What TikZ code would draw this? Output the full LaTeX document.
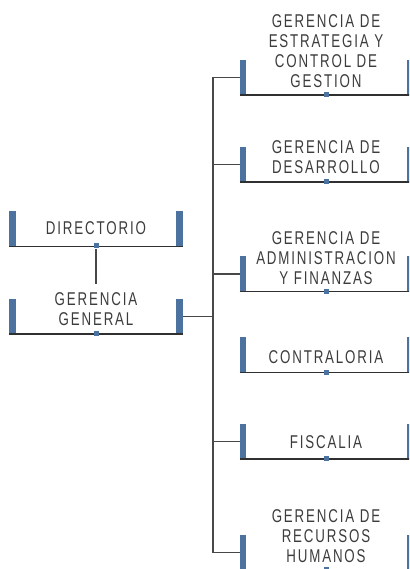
\documentclass[tikz,border=0pt]{standalone}
\usepackage{fontspec}
\setmainfont{Liberation Sans}[FakeStretch=0.72,LetterSpace=10]
\begin{document}
\begin{tikzpicture}[x=1pt,y=1pt,
  bar/.style={rectangle,fill=barColor,draw=none,inner sep=0pt,minimum width=6.5pt,minimum height=35pt},
  boxrule/.style={draw=ruleColor,line width=1.6pt},
  link/.style={draw=linkColor,line width=1.3pt},
  sqmark/.style={rectangle,fill=barColor,inner sep=0pt,minimum size=5pt},
  unittext/.style={text=textColor,align=center,inner sep=0pt,font=\fontsize{18.5}{20}\selectfont}]
\definecolor{barColor}{RGB}{76,115,160}
\definecolor{ruleColor}{RGB}{48,48,48}
\definecolor{linkColor}{RGB}{72,72,72}
\definecolor{textColor}{RGB}{60,60,60}
\useasboundingbox (0,0) rectangle (409,569);
\clip (0,0) rectangle (409,569);

% left column
\node[bar] (dir-l) at ( 12.5,340) {};
\node[bar] (dir-r) at (179.5,340) {};
\draw[boxrule] (dir-l.south west) -- (dir-r.south east);
\node[sqmark] (dir-sq) at (96,323) {};
\node[unittext] (dir) at (96,341) {DIRECTORIO};

\node[bar] (gg-l) at ( 12.5,252.5) {};
\node[bar] (gg-r) at (179.5,252.5) {};
\draw[boxrule] (gg-l.south west) -- (gg-r.south east);
\node[sqmark] (gg-sq) at (96,235) {};
\node[unittext] (gg) at (96,259.5) {GERENCIA\\GENERAL};

\draw[link] (dir-sq) -- ([yshift=9pt]gg.north);

% right column
\node[bar] (est-l) at (243,491.5) {};
\node[bar] (est-r) at (410,491.5) {};
\draw[boxrule] (est-l.south west) -- (est-r.south east);
\node[sqmark] (est-sq) at (326,474) {};
\node[unittext] (est) at (326,518) {GERENCIA DE\\ESTRATEGIA Y\\CONTROL DE\\GESTION};

\node[bar] (des-l) at (243,404.5) {};
\node[bar] (des-r) at (410,404.5) {};
\draw[boxrule] (des-l.south west) -- (des-r.south east);
\node[sqmark] (des-sq) at (326,387) {};
\node[unittext] (des) at (326,412.3) {GERENCIA DE\\DESARROLLO};

\node[bar] (adm-l) at (243,295) {};
\node[bar] (adm-r) at (410,295) {};
\draw[boxrule] (adm-l.south west) -- (adm-r.south east);
\node[sqmark] (adm-sq) at (326,277.5) {};
\node[unittext] (adm) at (326,311.2) {GERENCIA DE\\ADMINISTRACION\\Y FINANZAS};

\node[bar] (con-l) at (243,214) {};
\node[bar] (con-r) at (410,214) {};
\draw[boxrule] (con-l.south west) -- (con-r.south east);
\node[sqmark] (con-sq) at (326,196.5) {};
\node[unittext] (con) at (326,211.5) {CONTRALORIA};

\node[bar] (fis-l) at (243,127.5) {};
\node[bar] (fis-r) at (410,127.5) {};
\draw[boxrule] (fis-l.south west) -- (fis-r.south east);
\node[sqmark] (fis-sq) at (326,110) {};
\node[unittext] (fis) at (326,127) {FISCALIA};

\node[bar] (rh-l) at (243,16.5) {};
\node[bar] (rh-r) at (410,16.5) {};
\draw[boxrule] (rh-l.south west) -- (rh-r.south east);
\node[sqmark] (rh-sq) at (326,-1) {};
\node[unittext] (rh) at (326,33.2) {GERENCIA DE\\RECURSOS\\HUMANOS};

% trunk
\coordinate (trunk) at (213,252.5);
\draw[link] (gg-r.east) -- (trunk);
\draw[link] (est-l.west) -| (trunk);
\draw[link] (rh-l.west) -| (trunk);
\draw[link] (des-l.west) -- (des-l.west -| trunk);
\draw[link] (adm-l.west) -- (adm-l.west -| trunk);
\draw[link] (fis-l.west) -- (fis-l.west -| trunk);
\end{tikzpicture}
\end{document}
